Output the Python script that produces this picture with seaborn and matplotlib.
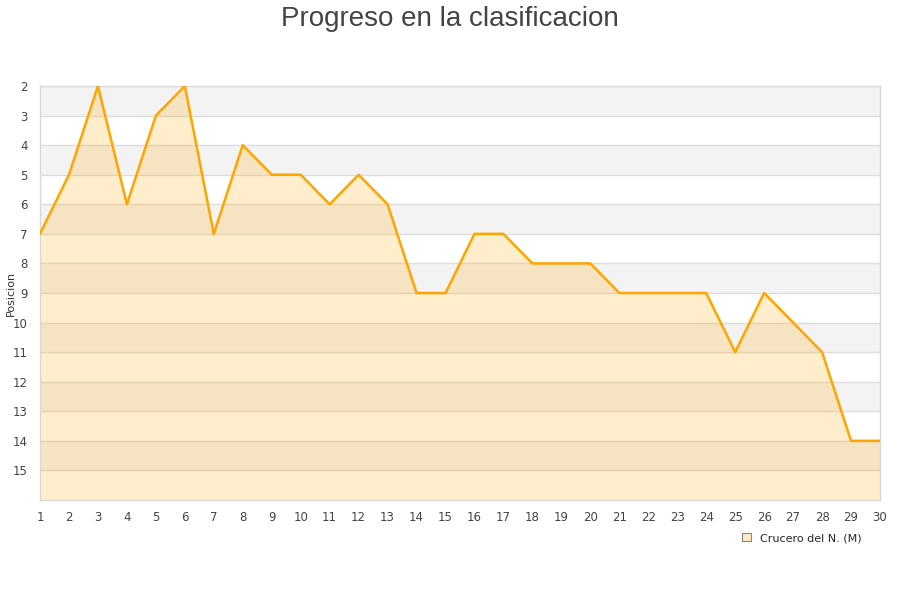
import matplotlib
matplotlib.use("Agg")
import matplotlib.pyplot as plt
import seaborn as sns
import pandas as pd
from matplotlib.patches import Patch

# Data
jornadas = list(range(1, 31))
posicion = [7, 5, 2, 6, 3, 2, 7, 4, 5, 5, 6, 5, 6, 9, 9,
            7, 7, 8, 8, 8, 9, 9, 9, 9, 11, 9, 10, 11, 14, 14]
equipo = "Crucero del N. (M)"
titulo = "Progreso en la clasificacion"

df = pd.DataFrame({"jornada": jornadas, "posicion": posicion})

sns.set_theme(style="white")
plt.rcParams["font.family"] = ["DejaVu Sans"]

fig = plt.figure(figsize=(9, 6), dpi=100)
ax = fig.add_axes([40 / 900, 1 - 500 / 600, 840 / 900, 414 / 600])

# alternating horizontal bands
for y0 in range(2, 16, 2):
    ax.axhspan(y0, y0 + 1, color="#f3f3f3", lw=0, zorder=0)
for y in range(3, 16):
    ax.axhline(y, color="#dddddd", lw=1, zorder=1)

ax.fill_between(df["jornada"], df["posicion"], 16, color="#ffa500",
                alpha=0.2, lw=0, zorder=2)
sns.lineplot(data=df, x="jornada", y="posicion", color="#ffa500",
             lw=1.8, ax=ax, zorder=3)

ax.set_xlim(1, 30)
ax.set_ylim(16, 2)
ax.set_xticks(jornadas)
ax.set_yticks(range(2, 16))
ax.tick_params(axis="both", labelsize=8.5, colors="#444444", length=0)
ax.tick_params(axis="x", pad=8)
ax.tick_params(axis="y", pad=9)
ax.set_xlabel("")
ax.set_ylabel("")
fig.text(11 / 900, 1 - 293 / 600, "Posicion", rotation=90, fontsize=8,
         color="#333333", ha="center", va="center")
for s in ax.spines.values():
    s.set_color("#d8d8d8")
    s.set_linewidth(1)

fig.suptitle(titulo, fontsize=20, color="#444444", y=0.99,
             family=["Liberation Sans", "DejaVu Sans"])

handle = Patch(facecolor="#ffe9c0", edgecolor="#888888", lw=0.8)
fig.legend([handle], [equipo], loc="center", bbox_to_anchor=(802 / 900, 1 - 538 / 600),
           frameon=False, fontsize=8, handlelength=0.8, handleheight=0.8,
           handletextpad=0.8)

fig.savefig("out.png", dpi=100)
